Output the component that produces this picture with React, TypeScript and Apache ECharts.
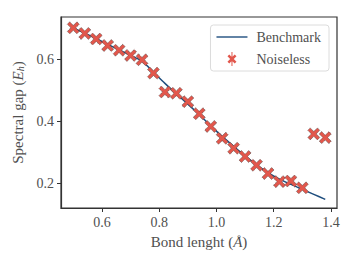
import React, { useEffect, useRef } from "react";
import * as echarts from "echarts";

const bondLengths = [0.5, 0.54, 0.58, 0.62, 0.66, 0.7, 0.74, 0.78, 0.82, 0.86, 0.9, 0.94, 0.98, 1.02, 1.06, 1.1, 1.14, 1.18, 1.22, 1.26, 1.3, 1.34, 1.38];
const benchmark = [0.701, 0.684, 0.666, 0.648, 0.63, 0.612, 0.594, 0.558, 0.522, 0.488, 0.455, 0.421, 0.385, 0.351, 0.319, 0.288, 0.259, 0.234, 0.213, 0.196, 0.18, 0.164, 0.148];
const noiseless = [0.701, 0.683, 0.665, 0.644, 0.629, 0.612, 0.598, 0.555, 0.494, 0.49, 0.463, 0.424, 0.383, 0.345, 0.313, 0.286, 0.258, 0.231, 0.205, 0.207, 0.185, 0.359, 0.347];
const xTicks = [0.6, 0.8, 1.0, 1.2, 1.4];
const yTicks = [0.2, 0.4, 0.6];

const FONT = "'Liberation Serif', 'DejaVu Serif', serif";
const TEXT = "#505050";
const XSYM = "path://M0,2L2,0L5,3L8,0L10,2L7,5L10,8L8,10L5,7L2,10L0,8L3,5Z";
const LINE_ICON = "path://M0,0M31,0M0,14M31,14M0,6.3H31V7.7H0Z";
const X_ICON = "path://M0,0M31,0M0,14M31,14M11,4.3L12.8,2.5L15.5,5.2L18.2,2.5L20,4.3L17.3,7L20,9.7L18.2,11.5L15.5,8.8L12.8,11.5L11,9.7L13.7,7ZM15,0H16V14H15Z";

export default function App() {
  const ref = useRef<HTMLDivElement>(null);
  useEffect(() => {
    const chart = echarts.init(ref.current!, null, { renderer: "svg" });
    chart.setOption({
      animation: false,
      backgroundColor: "#ffffff",
      textStyle: { fontFamily: FONT },
      grid: { left: 61, right: 20, top: 17, bottom: 60, show: true, borderColor: "#333", borderWidth: 1.2, backgroundColor: "transparent" },
      legend: {
        orient: "vertical",
        right: 28,
        top: 25,
        padding: [5, 8, 5, 6],
        itemGap: 8,
        itemWidth: 31,
        itemHeight: 14,
        backgroundColor: "#fff",
        borderColor: "#dcdcdc",
        borderWidth: 1,
        borderRadius: 3,
        textStyle: { fontFamily: FONT, fontSize: 14, color: TEXT, padding: [0, 0, 0, 4] },
        data: [
          { name: "Benchmark", icon: LINE_ICON, itemStyle: { color: "#1f4e7e", borderWidth: 0 } },
          { name: "Noiseless", icon: X_ICON, itemStyle: { color: "#e2574c", borderWidth: 0 } },
        ],
      },
      xAxis: {
        type: "value",
        min: 0.457,
        max: 1.421,
        splitLine: { show: false },
        axisLine: { show: true, onZero: false, lineStyle: { color: "#333", width: 1.2 } },
        axisTick: { show: true, length: 4, lineStyle: { color: "#333" }, customValues: xTicks },
        axisLabel: { color: TEXT, fontSize: 14, fontFamily: FONT, margin: 7, customValues: xTicks, formatter: (v: number) => v.toFixed(1) },
        name: "Bond lenght ({i|Å})",
        nameLocation: "middle",
        nameGap: 26,
        nameTextStyle: {
          color: TEXT, fontSize: 15, fontFamily: FONT,
          rich: { i: { fontStyle: "italic", fontSize: 15, color: TEXT, fontFamily: FONT } },
        },
      },
      yAxis: {
        type: "value",
        min: 0.12,
        max: 0.736,
        splitLine: { show: false },
        axisLine: { show: true, onZero: false, lineStyle: { color: "#333", width: 1.2 } },
        axisTick: { show: true, length: 4, lineStyle: { color: "#333" }, customValues: yTicks },
        axisLabel: { color: TEXT, fontSize: 14, fontFamily: FONT, margin: 7, customValues: yTicks, formatter: (v: number) => v.toFixed(1) },
        name: "Spectral gap ({i|E}{sub|h})",
        nameLocation: "middle",
        nameGap: 30,
        nameTextStyle: {
          color: TEXT, fontSize: 15, fontFamily: FONT,
          rich: {
            i: { fontStyle: "italic", fontSize: 15, color: TEXT, fontFamily: FONT },
            sub: { fontStyle: "italic", fontSize: 10, color: TEXT, fontFamily: FONT, verticalAlign: "bottom", padding: [6, 0, 0, 0] },
          },
        },
      },
      series: [
        {
          name: "Benchmark",
          type: "line",
          data: bondLengths.map((x, i) => [x, benchmark[i]]),
          showSymbol: false,
          symbol: "none",
          smooth: 0.3,
          lineStyle: { color: "#1f4e7e", width: 1.5 },
          itemStyle: { color: "#1f4e7e" },
          z: 2,
        },
        {
          name: "Noiseless",
          type: "scatter",
          data: bondLengths.map((x, i) => [x, noiseless[i]]),
          symbol: XSYM,
          symbolSize: 12,
          itemStyle: { color: "#e2574c", opacity: 1, borderColor: "#3a3a3a", borderWidth: 0.8, borderType: "dotted" },
          z: 3,
        },
      ],
    });
    return () => chart.dispose();
  }, []);
  return <div ref={ref} style={{ width: 357, height: 268, position: "absolute", left: 0, top: 0 }} />;
}
